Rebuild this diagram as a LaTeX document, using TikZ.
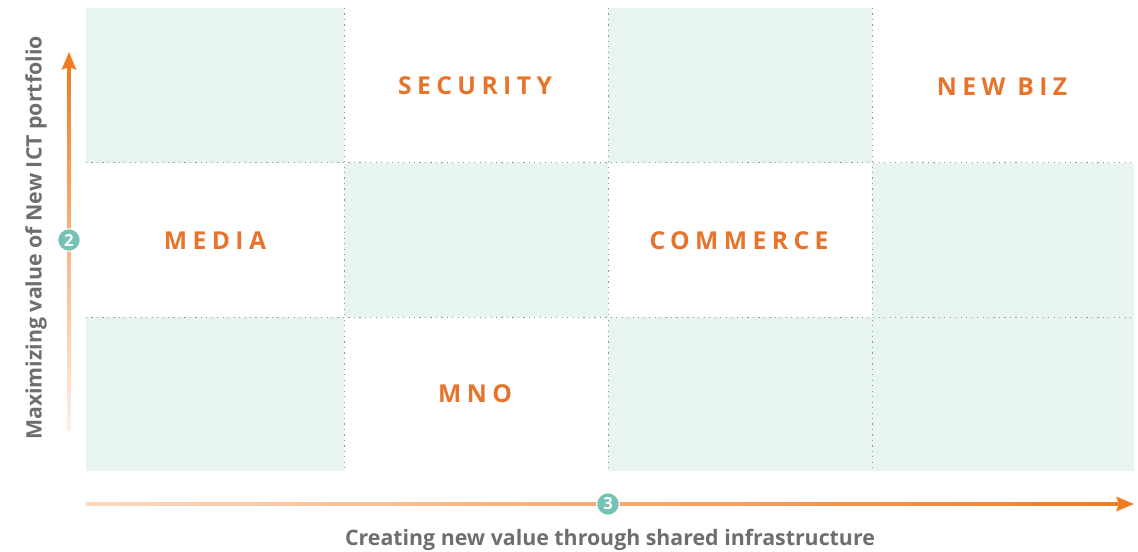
\documentclass[tikz,border=0pt]{standalone}
\usepackage{fontspec}
\setmainfont{Open Sans}
\newfontfamily\quadfont[LetterSpace=22]{Open Sans}
\usetikzlibrary{calc}

\definecolor{cellfill}{RGB}{232,244,241}
\definecolor{gridgray}{RGB}{150,150,150}
\definecolor{quadorange}{RGB}{232,115,42}
\definecolor{axisorange}{RGB}{240,125,34}
\definecolor{axisfade}{RGB}{254,240,230}
\definecolor{dotteal}{RGB}{118,194,180}
\definecolor{axisgray}{RGB}{109,110,113}

\tikzset{every picture/.style={line width=0.75pt}}
\tikzset{
  gridline/.style={gridgray, dash pattern={on 0.9pt off 3.2pt}},
  quadlabel/.style={text=quadorange, font=\quadfont\bfseries\fontsize{18.5}{20}\selectfont},
  numdot/.style={circle, fill=dotteal, draw=white, line width=0.8pt, inner sep=0pt,
    minimum size=17pt, text=white, font=\bfseries\fontsize{12.5}{13}\selectfont},
  axislabel/.style={text=axisgray, font=\bfseries\fontsize{16}{18}\selectfont}
}

\begin{document}
\begin{tikzpicture}[x=0.75pt,y=0.75pt,yscale=-1,xscale=1]
        \useasboundingbox (0,0) rectangle (1138,552);

        %Shape: Rectangle (shaded cells)
        \foreach \xa/\ya/\xb/\yb in {86/8/344/163, 608/8/872/163, 344/163/608/317, 872/163/1134/317, 86/317/344/471, 608/317/872/471, 872/317/1134/471}
            \fill [cellfill] (\xa,\ya) rectangle (\xb,\yb) ;

        %Straight Lines (dotted grid)
        \draw [gridline] (86,163) -- (1134,163) ;
        \draw [gridline] (86,317) -- (1134,317) ;
        \foreach \xg in {344,608,872}
            \draw [gridline] (\xg,8) -- (\xg,471) ;

        %Quadrant labels
        \node [quadlabel] (security) at (475,86) {SECURITY};
        \node [quadlabel] (newbiz) at (1002,87) {NEW BIZ};
        \node [quadlabel] (media) at (215,241) {MEDIA};
        \node [quadlabel] (commerce) at (739,241) {COMMERCE};
        \node [quadlabel] (mno) at (475,394) {MNO};

        %Vertical axis
        \coordinate (ytail) at (69,430);
        \coordinate (yhead) at (69,52);
        \shade [top color=axisorange, bottom color=axisfade] ($(ytail)+(-1.6,0)$) rectangle ($(yhead)+(1.6,14)$) ;
        \fill [axisorange] (yhead) -- ($(yhead)+(7.5,18)$) -- ($(yhead)+(0,15)$) -- ($(yhead)+(-7.5,18)$) -- cycle ;
        \node [numdot] (two) at (69,240) {2};
        \node [axislabel, rotate=90] (ylabel) at (36,238) {Maximizing value of New ICT portfolio};

        %Horizontal axis
        \coordinate (xtail) at (86,504);
        \coordinate (xhead) at (1134,504);
        \shade [left color=axisfade!80!axisorange, right color=axisorange] ($(xtail)+(0,-1.6)$) rectangle ($(xhead)+(-14,1.6)$) ;
        \fill [axisorange] (xhead) -- ($(xhead)+(-18,-7.5)$) -- ($(xhead)+(-15,0)$) -- ($(xhead)+(-18,7.5)$) -- cycle ;
        \node [numdot] (three) at (608,504) {3};
        \node [axislabel] (xlabel) at (610,540) {Creating new value through shared infrastructure};

    \end{tikzpicture}
\end{document}
